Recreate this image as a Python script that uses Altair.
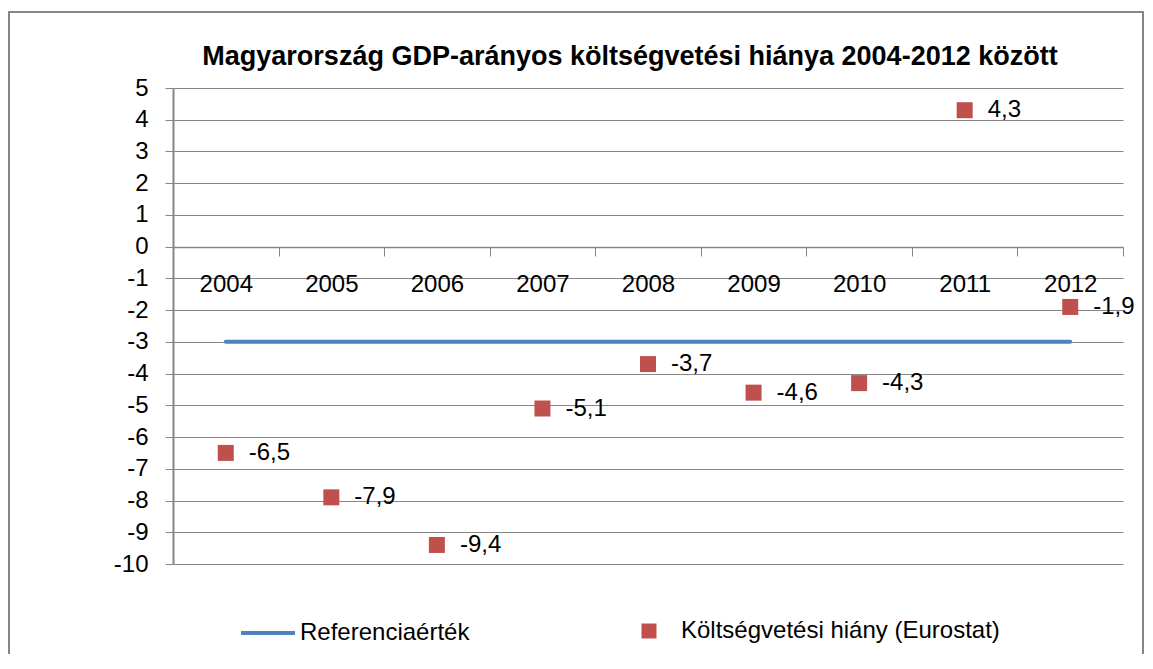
import altair as alt
import pandas as pd

years = ["2004", "2005", "2006", "2007", "2008", "2009", "2010", "2011", "2012"]
deficit = [-6.5, -7.9, -9.4, -5.1, -3.7, -4.6, -4.3, 4.3, -1.9]
reference = [-3, -3, -3, -3, -3, -3, -3, -3, -3]
y_ticks = list(range(-10, 6))

ref_name = "Referenciaérték"
def_name = "Költségvetési hiány (Eurostat)"
title_text = "Magyarország GDP-arányos költségvetési hiánya 2004-2012 között"

FONT = "Liberation Sans"
GRID = "#868686"

df = pd.DataFrame({
    "year": years,
    "deficit": deficit,
    "ref": reference,
    "label": [f"{v:.1f}".replace(".", ",") for v in deficit],
    "leg1": ref_name,
    "leg2": def_name,
})

W, H = 950, 476

x_axis = alt.Axis(
    title=None, orient="bottom", offset=-317, labelAngle=0,
    tickBand="extent", tickSize=9, tickColor=GRID, tickWidth=1,
    domainColor=GRID, domainWidth=1.5,
    labelFont=FONT, labelFontSize=24, labelColor="#000000",
    labelPadding=16, grid=False,
)
x_scale = alt.Scale(domain=years, paddingInner=0, paddingOuter=0)

y_axis = alt.Axis(
    title=None, values=y_ticks, labelExpr="datum.value + ''",
    labelOverlap=False, tickCount=16,
    grid=True, gridColor=GRID, gridWidth=1.2,
    domainColor=GRID, domainWidth=2, tickColor=GRID, tickSize=8,
    labelFont=FONT, labelFontSize=24, labelColor="#000000",
    labelPadding=17,
)
y_scale = alt.Scale(domain=[-10, 5], nice=False, zero=False)


def xe():
    return alt.X("year:O", sort=years, scale=x_scale, axis=x_axis)


def ye(field):
    return alt.Y(field, scale=y_scale, axis=y_axis)


base = alt.Chart(df)

line = base.mark_line(strokeWidth=4, strokeCap="round").encode(
    x=xe(),
    y=ye("ref:Q"),
    stroke=alt.Stroke(
        "leg1:N",
        scale=alt.Scale(domain=[ref_name], range=["#4F81BD"]),
        legend=alt.Legend(
            title=None, orient="none", legendX=66, legendY=516,
            symbolType="stroke", symbolSize=2916, symbolStrokeWidth=4,
            labelFont=FONT, labelFontSize=24, labelColor="#000000",
            labelOffset=3, labelLimit=400,
        ),
    ),
)

points = base.mark_point(shape="square", filled=True, size=256, opacity=1).encode(
    x=xe(),
    y=ye("deficit:Q"),
    fill=alt.Fill(
        "leg2:N",
        scale=alt.Scale(domain=[def_name], range=["#C0504D"]),
        legend=alt.Legend(
            title=None, orient="none", legendX=464, legendY=531,
            symbolType="square", symbolSize=225, symbolStrokeWidth=0,
            labelFont=FONT, labelFontSize=24, labelColor="#000000",
            labelOffset=20, labelLimit=500,
        ),
    ),
)

labels = base.mark_text(
    align="left", baseline="middle", dx=23, font=FONT, fontSize=24, color="#000000"
).encode(
    x=xe(),
    y=ye("deficit:Q"),
    text="label:N",
)

border = alt.Chart(pd.DataFrame({"k": [0]})).mark_rect(
    fill=None, stroke="#868686", strokeWidth=2
).encode(
    x=alt.value(-164), x2=alt.value(970), y=alt.value(-76), y2=alt.value(600)
)

chart = alt.layer(border, line, points, labels).properties(
    width=W, height=H,
    autosize=alt.AutoSizeParams(type="none"),
    padding={"left": 165, "top": 80, "right": 22, "bottom": 90},
    title=alt.Title(
        title_text, font=FONT, fontSize=27, fontWeight="bold",
        color="#000000", anchor="middle", dx=-18, offset=-60,
    ),
).configure_view(stroke=None)

chart.save("out.html", embed_options={"renderer": "svg", "actions": False})
